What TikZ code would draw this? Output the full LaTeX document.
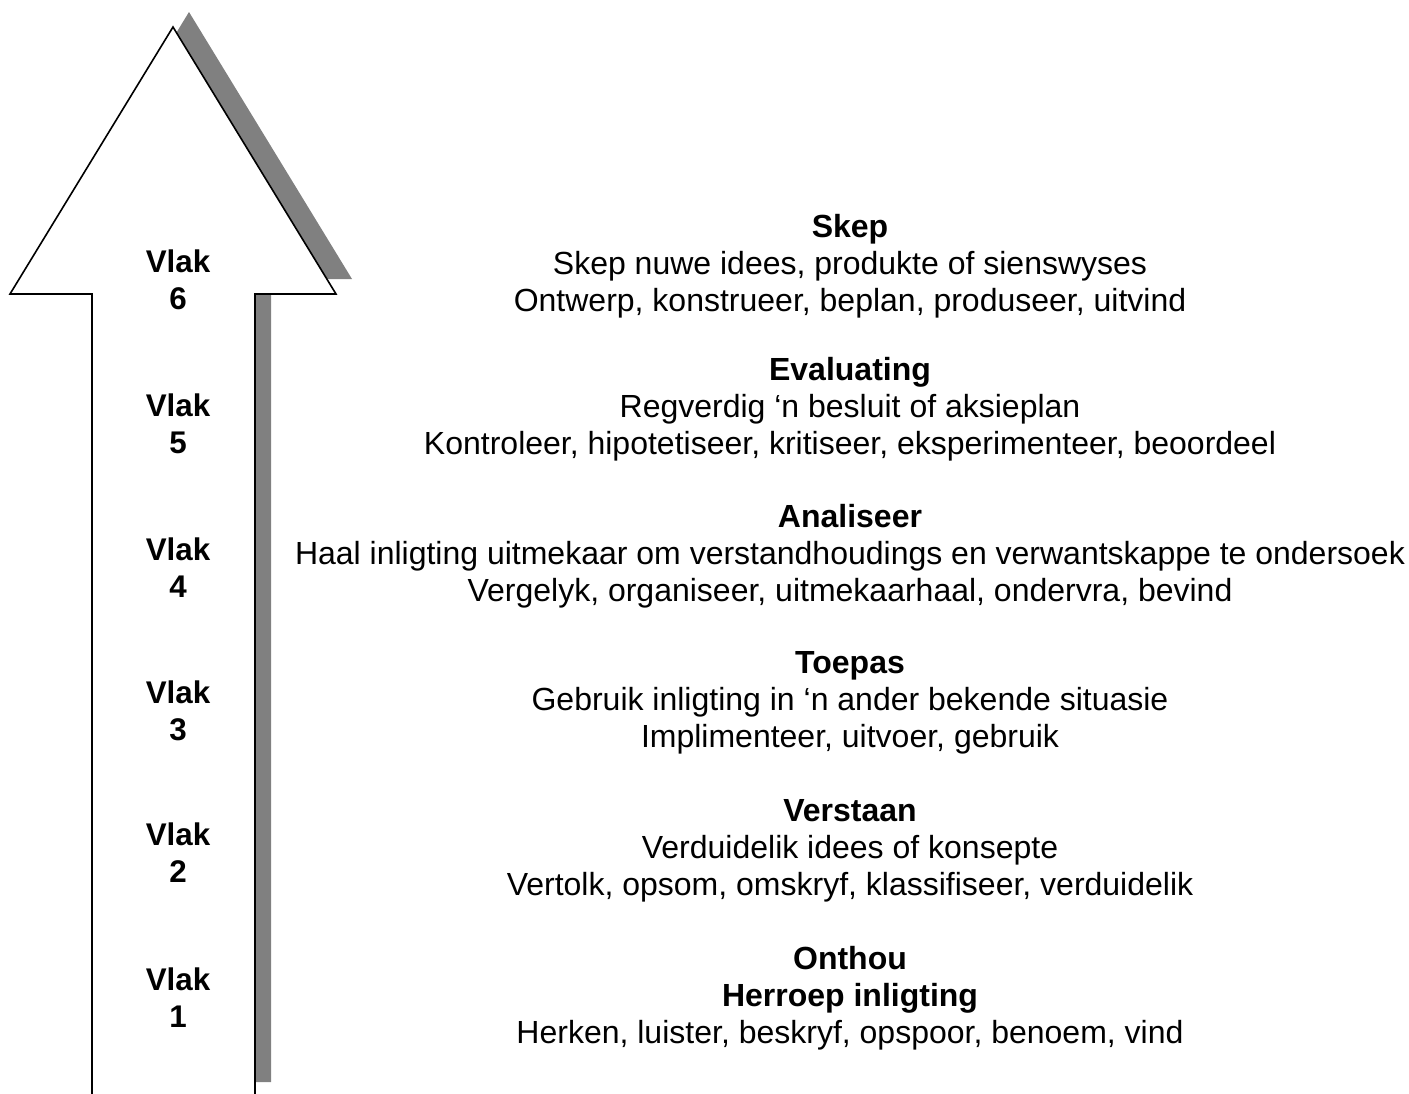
\documentclass[tikz,border=0pt]{standalone}
\usepackage{fontspec}
\setmainfont{Liberation Sans}

\begin{document}
\begin{tikzpicture}[
    x=0.75pt, y=-0.75pt,
    level/.style={font=\fontsize{23.5}{27.75}\selectfont\bfseries, align=center},
    skill/.style={font=\fontsize{24}{27.75}\selectfont, align=center},
    arrowshape/.style={draw=black, line width=1.2pt, fill=white, line join=miter},
    shadow/.style={fill=black!50}
]

% Page frame
\useasboundingbox (0,0) rectangle (1409,1093);
\clip (0,0) rectangle (1409,1093);

% Shadow of the arrow
\fill[shadow] (108,1082) -- (108,279) -- (26,279) -- (189,12) -- (352,279) -- (271,279) -- (271,1082) -- cycle;

% Arrow
\draw[arrowshape] (92,1097) -- (92,294) -- (10,294) -- (173,27) -- (336,294) -- (255,294) -- (255,1097) -- cycle;

% Levels inside the arrow
\node[level] (vlak6) at (178,280) {Vlak\\6};
\node[level] (vlak5) at (178,424) {Vlak\\5};
\node[level] (vlak4) at (178,568) {Vlak\\4};
\node[level] (vlak3) at (178,711) {Vlak\\3};
\node[level] (vlak2) at (178,853) {Vlak\\2};
\node[level] (vlak1) at (178,998) {Vlak\\1};

% Descriptions
\node[skill] (skep) at (850,266) {\textbf{Skep}\\Skep nuwe idees, produkte of sienswyses\\Ontwerp, konstrueer, beplan, produseer, uitvind};
\node[skill] (evaluating) at (850,409) {\textbf{Evaluating}\\Regverdig ‘n besluit of aksieplan\\Kontroleer, hipotetiseer, kritiseer, eksperimenteer, beoordeel};
\node[skill] (analiseer) at (850,556) {\textbf{Analiseer}\\Haal inligting uitmekaar om verstandhoudings en verwantskappe te ondersoek\\Vergelyk, organiseer, uitmekaarhaal, ondervra, bevind};
\node[skill] (toepas) at (850,703) {\textbf{Toepas}\\Gebruik inligting in ‘n ander bekende situasie\\Implimenteer, uitvoer, gebruik};
\node[skill] (verstaan) at (850,851) {\textbf{Verstaan}\\Verduidelik idees of konsepte\\Vertolk, opsom, omskryf, klassifiseer, verduidelik};
\node[skill] (onthou) at (850,998) {\textbf{Onthou}\\\textbf{Herroep inligting}\\Herken, luister, beskryf, opspoor, benoem, vind};

\end{tikzpicture}
\end{document}
